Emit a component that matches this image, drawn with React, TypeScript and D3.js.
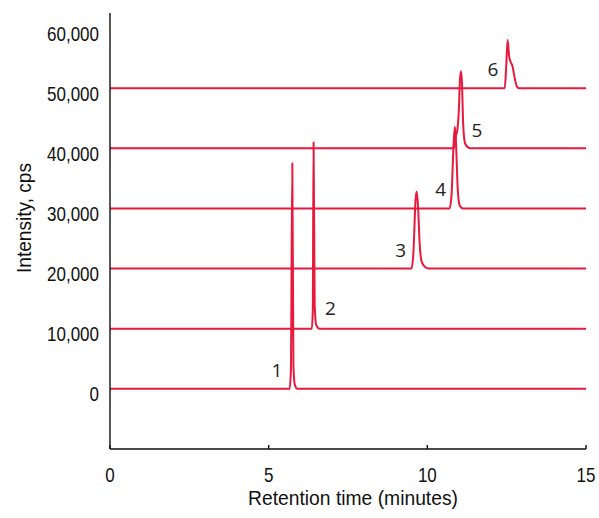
import React from 'react';
import * as d3 from 'd3';

// each trace as [time (min), intensity (cps)] points,
// stacked at baselines 0, 10,000 ... 50,000
const trace1 = [[0, 0], [5.66, 0], [5.70, 3000], [5.745, 37500], [5.78, 4000], [5.82, 800], [5.90, 0], [15, 0]];
const trace2 = [[0, 10000], [6.36, 10000], [6.39, 13000], [6.415, 41000], [6.45, 14000], [6.50, 10600], [6.60, 10000], [15, 10000]];
const trace3 = [[0, 20000], [9.50, 20000], [9.56, 22500], [9.63, 31500], [9.665, 32800], [9.71, 30000], [9.76, 24000], [9.82, 21200], [9.92, 20300], [10.05, 20000], [15, 20000]];
const trace4 = [[0, 30000], [10.70, 30000], [10.76, 32000], [10.83, 41000], [10.87, 43600], [10.91, 40000], [10.96, 33000], [11.02, 30500], [11.12, 30000], [15, 30000]];
const trace5 = [[0, 40000], [10.84, 40000], [10.90, 42000], [10.95, 43200], [10.99, 46000], [11.03, 51500], [11.06, 52800], [11.09, 51000], [11.13, 44000], [11.19, 40800], [11.30, 40100], [11.40, 40000], [15, 40000]];
const trace6 = [[0, 50000], [12.44, 50000], [12.48, 53000], [12.53, 58000], [12.58, 55200], [12.69, 53500], [12.76, 51500], [12.83, 50200], [12.90, 50000], [15, 50000]];
const traces = [trace1, trace2, trace3, trace4, trace5, trace6];

// peak number labels: [time, intensity] of the text baseline centre
const peakLabels = ['1', '2', '3', '4', '5', '6'];
const labelPos = [[5.26, 2000], [6.95, 12300], [9.16, 21900], [10.42, 32100], [11.56, 41800], [12.07, 52100]];

const yTicks = [0, 10000, 20000, 30000, 40000, 50000, 60000];
const xTicks = [0, 5, 10, 15];

const W = 599;
const H = 518;
const lineColor = '#e8193c';
const axisFont = '"Liberation Sans", Arial, sans-serif';

export default function App() {
  const x = d3.scaleLinear().domain([0, 15]).range([110, 586]);
  const y = d3.scaleLinear().domain([-10000, 62500]).range([449, 13]);

  const line = d3.line<number[]>()
    .x(d => x(d[0]))
    .y(d => y(d[1]))
    .curve(d3.curveMonotoneX);

  const fmt = d3.format(',');

  return (
    <svg width={W} height={H} style={{ position: 'absolute', left: 0, top: 0, background: '#fff' }}>
      {/* traces */}
      {traces.map((t, i) => (
        <path key={i} d={line(t) || ''} fill="none" stroke={lineColor} strokeWidth={2}
          strokeLinejoin="round" />
      ))}

      {/* axes */}
      <line x1={x(0)} x2={x(0)} y1={y.range()[1]} y2={y.range()[0]} stroke="#111" strokeWidth={1.4} />
      <line x1={x(0)} x2={x(15)} y1={y.range()[0]} y2={y.range()[0]} stroke="#111" strokeWidth={1.4} />
      {xTicks.map(t => (
        <g key={t}>
          <line x1={x(t)} x2={x(t)} y1={y.range()[0]} y2={y.range()[0] - 4} stroke="#111" strokeWidth={1.4} />
          <text transform={`translate(${x(t)},482) scale(0.85,1)`} textAnchor="middle"
            fontFamily={axisFont} fontSize={20} fill="#111">{t}</text>
        </g>
      ))}
      {yTicks.map(v => (
        <text key={v} transform={`translate(99,${y(v) + 12.5}) scale(0.85,1)`} textAnchor="end"
          fontFamily={axisFont} fontSize={20} fill="#111">{fmt(v)}</text>
      ))}

      {/* peak numbers */}
      {peakLabels.map((p, i) => (
        <text key={p} x={x(labelPos[i][0])} y={y(labelPos[i][1])} textAnchor="middle"
          fontFamily='"Open Sans", sans-serif' fontSize={19} fill="#222">{p}</text>
      ))}

      {/* titles */}
      <text x={353} y={505} textAnchor="middle" fontFamily={axisFont} fontSize={20}
        textLength={210} lengthAdjust="spacingAndGlyphs" fill="#111">Retention time (minutes)</text>
      <text transform="translate(31,218) rotate(-90)" textAnchor="middle" fontFamily={axisFont} fontSize={20}
        textLength={110} lengthAdjust="spacingAndGlyphs" fill="#111">Intensity, cps</text>
    </svg>
  );
}
